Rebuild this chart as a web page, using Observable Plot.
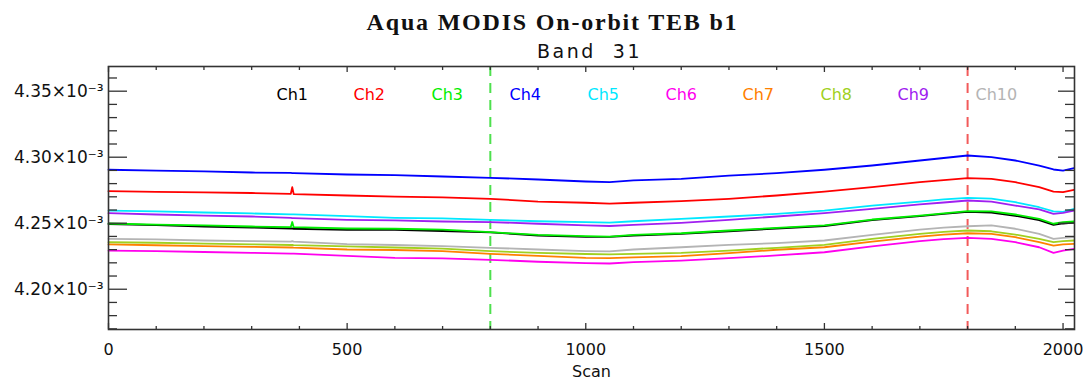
<!DOCTYPE html>
<html><head><meta charset="utf-8">
<script src="https://cdn.jsdelivr.net/npm/d3@7"></script>
<script src="https://cdn.jsdelivr.net/npm/@observablehq/plot@0.6"></script>
<style>html,body{margin:0;padding:0;background:#fff;} #chart svg{display:block;}</style>
</head><body><div id="chart"></div>
<script>
// values in units of 1e-3
const UNIT = 1e-3;
const titleText = "Aqua MODIS On-orbit TEB b1";
const subtitleText = "Band  31";
const xLabel = "Scan";
const scans = [0,100,200,300,382,385,388,500,600,700,800,900,1000,1050,1100,1200,1300,1400,1500,1600,1700,1750,1800,1850,1900,1950,1980,2000,2023];
const ch1  = [4.2494,4.2485,4.2475,4.2467,4.2460,4.2460,4.2458,4.2449,4.2449,4.2441,4.2430,4.2407,4.2397,4.2396,4.2407,4.2420,4.2439,4.2460,4.2479,4.2523,4.2553,4.2570,4.2586,4.2581,4.2556,4.2523,4.2488,4.2498,4.2505];
const ch2  = [4.2743,4.2738,4.2733,4.2729,4.2723,4.2773,4.2721,4.2710,4.2702,4.2695,4.2685,4.2664,4.2655,4.2649,4.2655,4.2667,4.2685,4.2710,4.2740,4.2773,4.2811,4.2827,4.2841,4.2836,4.2811,4.2773,4.2740,4.2735,4.2753];
const ch3  = [4.2498,4.2490,4.2483,4.2475,4.2471,4.2509,4.2470,4.2460,4.2458,4.2452,4.2432,4.2412,4.2402,4.2399,4.2412,4.2424,4.2445,4.2465,4.2483,4.2528,4.2558,4.2574,4.2591,4.2589,4.2566,4.2533,4.2496,4.2508,4.2513];
const ch4  = [4.2905,4.2899,4.2892,4.2884,4.2881,4.2880,4.2880,4.2869,4.2864,4.2854,4.2844,4.2831,4.2816,4.2812,4.2824,4.2836,4.2861,4.2879,4.2905,4.2937,4.2975,4.2994,4.3013,4.3000,4.2975,4.2937,4.2907,4.2899,4.2917];
const ch5  = [4.2596,4.2589,4.2581,4.2574,4.2567,4.2567,4.2567,4.2553,4.2541,4.2536,4.2526,4.2515,4.2508,4.2505,4.2515,4.2533,4.2551,4.2571,4.2596,4.2634,4.2664,4.2680,4.2692,4.2687,4.2659,4.2621,4.2589,4.2586,4.2609];
const ch6  = [4.2293,4.2288,4.2282,4.2276,4.2270,4.2270,4.2270,4.2252,4.2238,4.2233,4.2223,4.2208,4.2197,4.2195,4.2205,4.2217,4.2235,4.2256,4.2280,4.2324,4.2364,4.2380,4.2389,4.2382,4.2356,4.2318,4.2276,4.2293,4.2306];
const ch7  = [4.2339,4.2333,4.2327,4.2321,4.2316,4.2316,4.2315,4.2301,4.2297,4.2289,4.2268,4.2253,4.2238,4.2236,4.2242,4.2250,4.2273,4.2299,4.2318,4.2361,4.2399,4.2414,4.2424,4.2420,4.2394,4.2356,4.2331,4.2339,4.2344];
const ch8  = [4.2356,4.2352,4.2346,4.2340,4.2335,4.2335,4.2334,4.2324,4.2316,4.2308,4.2288,4.2276,4.2267,4.2264,4.2268,4.2276,4.2293,4.2314,4.2336,4.2382,4.2420,4.2435,4.2445,4.2439,4.2414,4.2382,4.2356,4.2364,4.2369];
const ch9  = [4.2576,4.2566,4.2558,4.2551,4.2541,4.2539,4.2539,4.2526,4.2521,4.2513,4.2509,4.2496,4.2483,4.2479,4.2488,4.2503,4.2526,4.2551,4.2576,4.2609,4.2642,4.2657,4.2672,4.2664,4.2634,4.2604,4.2571,4.2579,4.2596];
const ch10 = [4.2382,4.2377,4.2369,4.2365,4.2361,4.2365,4.2361,4.2342,4.2335,4.2327,4.2314,4.2301,4.2289,4.2286,4.2301,4.2318,4.2336,4.2349,4.2369,4.2412,4.2452,4.2467,4.2477,4.2483,4.2458,4.2420,4.2382,4.2389,4.2394];
const channelNames = ["Ch1","Ch2","Ch3","Ch4","Ch5","Ch6","Ch7","Ch8","Ch9","Ch10"];
const channelColors = ["#000000","#ff0000","#00ee00","#0000ff","#00e8ff","#ff00ee","#ff8000","#a0d020","#a020f0","#b4b4b4"];
const markerScans = [800, 1800];
const markerColors = ["#4ee04e","#f25a5a"];
const yMajorTicks = [4.20,4.25,4.30,4.35];
const yMinorTicks = [4.17,4.18,4.19,4.21,4.22,4.23,4.24,4.26,4.27,4.28,4.29,4.31,4.32,4.33,4.34,4.36];
const xMajorTicks = [0,500,1000,1500,2000];
const xMinorTicks = [100,200,300,400,600,700,800,900,1100,1200,1300,1400,1600,1700,1800,1900];

const W = 1083, H = 381;
const M = {top: 66, right: 9, bottom: 52, left: 108};
const FW = W - M.left - M.right, FH = H - M.top - M.bottom;
const sans = "DejaVu Sans, sans-serif";
const axisColor = "#333";

const series = [ch1,ch2,ch3,ch4,ch5,ch6,ch7,ch8,ch9,ch10];
const rows = series.flatMap((vals, i) => vals.map((v, j) => ({scan: scans[j], value: v * UNIT, ch: channelNames[i]})));

const legendDx = [168,245,323,401,479,557,634,712,789,867];

const marks = [
  ...markerScans.map((s, i) => Plot.ruleX([s], {stroke: markerColors[i], strokeWidth: 2, strokeDasharray: "10,7"})),
  Plot.line(rows, {x: "scan", y: "value", z: "ch", stroke: "ch", strokeWidth: 1.8}),
  // ticks (inward, IDL style)
  Plot.tickY(yMinorTicks.map(d => d * UNIT), {y: d => d, insetRight: FW - 9, stroke: axisColor, strokeWidth: 1.3}),
  Plot.tickY(yMajorTicks.map(d => d * UNIT), {y: d => d, insetRight: FW - 19, stroke: axisColor, strokeWidth: 1.3}),
  Plot.tickY(yMinorTicks.map(d => d * UNIT), {y: d => d, insetLeft: FW - 9, stroke: axisColor, strokeWidth: 1.3}),
  Plot.tickY(yMajorTicks.map(d => d * UNIT), {y: d => d, insetLeft: FW - 16, stroke: axisColor, strokeWidth: 1.3}),
  Plot.tickX(xMinorTicks, {x: d => d, insetTop: FH - 3, stroke: axisColor, strokeWidth: 1.3}),
  Plot.tickX(xMajorTicks, {x: d => d, insetTop: FH - 6, stroke: axisColor, strokeWidth: 1.3}),
  Plot.tickX(xMinorTicks, {x: d => d, insetBottom: FH - 4, stroke: axisColor, strokeWidth: 1.3}),
  Plot.tickX(xMajorTicks, {x: d => d, insetBottom: FH - 6, stroke: axisColor, strokeWidth: 1.3}),
  Plot.frame({stroke: axisColor, strokeWidth: 1.6}),
  Plot.axisY(yMajorTicks.map(d => d * UNIT), {tickSize: 0, tickPadding: 5, label: null, fontSize: 17, fill: "#111",
    tickFormat: d => (d / UNIT).toFixed(2) + "\u00d710\u207b\u00b3"}),
  Plot.axisX(xMajorTicks, {tickSize: 0, tickPadding: 14, label: null, fontSize: 16, fill: "#111", tickFormat: d => String(d)}),
  Plot.text([xLabel], {frameAnchor: "bottom", dy: 42, lineAnchor: "middle", fontSize: 16, fill: "#111"}),
  Plot.text([titleText], {frameAnchor: "top-left", dx: 444, dy: -44, lineAnchor: "middle", textAnchor: "middle", fontSize: 24, fontWeight: "bold", fontFamily: "Liberation Serif, serif", fill: "#111"}),
  Plot.text([subtitleText], {frameAnchor: "top-left", dx: 481, dy: -15, lineAnchor: "middle", textAnchor: "middle", fontSize: 19, fill: "#111"}),
  ...channelNames.map((name, i) => Plot.text([name], {frameAnchor: "top-left", dx: legendDx[i], dy: 28, lineAnchor: "middle", textAnchor: "start", fontSize: 16, fill: channelColors[i]}))
];

const chart = Plot.plot({
  width: W, height: H,
  marginTop: M.top, marginRight: M.right, marginBottom: M.bottom, marginLeft: M.left,
  style: {fontFamily: sans, background: "#fff"},
  x: {domain: [0, 2024]},
  y: {domain: [4.1695 * UNIT, 4.3687 * UNIT]},
  color: {domain: channelNames, range: channelColors},
  marks
});
d3.select(chart).selectAll("text").each(function() {
  const t = this.textContent;
  if (t === titleText) this.setAttribute("letter-spacing", "1.8px");
  if (t === subtitleText) { this.setAttribute("letter-spacing", "2.5px"); this.style.whiteSpace = "pre"; }
});
document.getElementById("chart").appendChild(chart);
</script>
</body></html>
